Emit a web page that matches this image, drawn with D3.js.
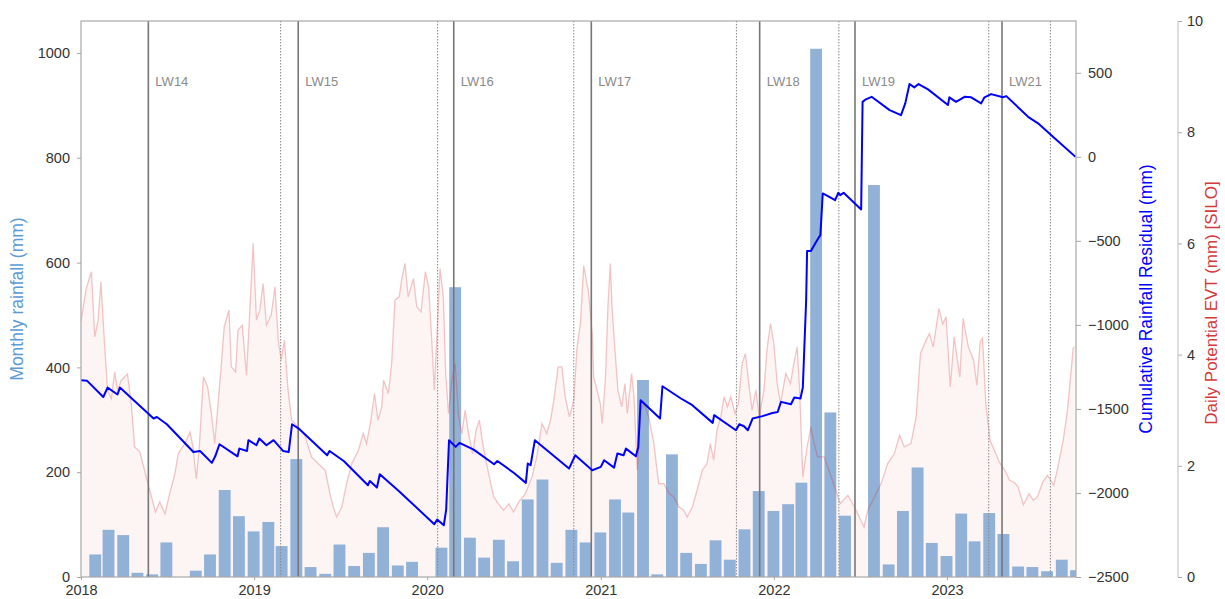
<!DOCTYPE html>
<html><head><meta charset="utf-8">
<script src="https://cdn.jsdelivr.net/npm/d3@7"></script>
<style>body{margin:0;background:#fff}svg{display:block;font-family:"Liberation Sans",Arial,sans-serif}</style>
</head><body><svg id="c" width="1225" height="599"></svg>
<script>
// ---------------- DATA ----------------
const monthLabels = [
"2018-01","2018-02","2018-03","2018-04","2018-05","2018-06","2018-07","2018-08","2018-09","2018-10","2018-11","2018-12",
"2019-01","2019-02","2019-03","2019-04","2019-05","2019-06","2019-07","2019-08","2019-09","2019-10","2019-11","2019-12",
"2020-01","2020-02","2020-03","2020-04","2020-05","2020-06","2020-07","2020-08","2020-09","2020-10","2020-11","2020-12",
"2021-01","2021-02","2021-03","2021-04","2021-05","2021-06","2021-07","2021-08","2021-09","2021-10","2021-11","2021-12",
"2022-01","2022-02","2022-03","2022-04","2022-05","2022-06","2022-07","2022-08","2022-09","2022-10","2022-11","2022-12",
"2023-01","2023-02","2023-03","2023-04","2023-05","2023-06","2023-07","2023-08","2023-09"];
const monthlyRainfall = [
43,90,80,8,5,66,0,12,43,166,116,87,
105,59,225,19,6,62,21,46,95,22,29,0,
56,553,75,37,71,30,148,186,27,90,66,85,
148,123,376,5,234,46,25,70,33,91,164,126,
139,180,1008,314,117,0,748,24,126,209,65,40,
121,68,122,82,20,19,11,33,13];

const cumDates = [
"2018-01-01","2018-01-14","2018-02-17","2018-02-26","2018-03-19","2018-03-24","2018-06-03","2018-06-10","2018-07-01","2018-08-26",
"2018-09-09","2018-10-04","2018-10-11","2018-10-20","2018-11-27","2018-12-01","2018-12-17","2018-12-20","2019-01-06","2019-01-12",
"2019-01-27","2019-02-11","2019-03-03","2019-03-15","2019-03-22","2019-04-05","2019-06-04","2019-06-09","2019-07-09","2019-08-29",
"2019-09-02","2019-09-17","2019-09-23","2019-11-02","2020-01-16","2020-01-22","2020-02-05","2020-02-10","2020-02-16","2020-03-01",
"2020-03-09","2020-04-08","2020-05-21","2020-05-28","2020-07-02","2020-07-27","2020-07-31","2020-08-06","2020-08-15","2020-10-26",
"2020-11-08","2020-12-14","2021-01-01","2021-01-08","2021-01-29","2021-02-05","2021-02-18","2021-02-23","2021-03-16","2021-03-21",
"2021-03-26","2021-05-06","2021-05-11","2021-06-19","2021-07-13","2021-08-25","2021-08-28","2021-10-13","2021-10-20","2021-10-30",
"2021-11-07","2021-11-17","2021-12-08","2021-12-29","2022-01-09","2022-01-16","2022-02-06","2022-02-13","2022-02-26","2022-03-03",
"2022-03-10","2022-03-12","2022-03-20","2022-04-03","2022-04-09","2022-04-14","2022-04-25","2022-05-10","2022-05-17","2022-05-21",
"2022-05-28","2022-07-04","2022-07-07","2022-07-14","2022-07-26","2022-09-02","2022-09-26","2022-10-05","2022-10-14","2022-10-24",
"2022-11-02","2022-11-22","2023-01-03","2023-01-06","2023-01-20","2023-02-07","2023-02-21","2023-03-14","2023-03-21","2023-04-04",
"2023-04-29","2023-05-06","2023-06-21","2023-07-12","2023-08-16","2023-09-29"];
const cumResidual = [
-1329,-1333,-1429,-1373,-1414,-1373,-1557,-1548,-1591,-1756,
-1750,-1821,-1782,-1710,-1782,-1736,-1750,-1686,-1716,-1676,
-1716,-1686,-1750,-1756,-1591,-1617,-1776,-1750,-1810,-1954,
-1929,-1968,-1889,-1988,-2186,-2158,-2192,-2099,-1686,-1726,
-1702,-1742,-1829,-1810,-1881,-1940,-1825,-1835,-1686,-1855,
-1776,-1865,-1845,-1805,-1849,-1765,-1776,-1736,-1782,-1726,
-1448,-1557,-1365,-1438,-1478,-1583,-1537,-1627,-1591,-1603,
-1627,-1557,-1543,-1524,-1518,-1458,-1472,-1432,-1438,-1373,
-853,-560,-560,-492,-466,-218,-234,-258,-214,-228,
-214,-313,327,342,357,278,248,318,433,413,
433,401,308,354,327,357,354,318,354,373,
354,361,238,199,110,0];

const evtDates = [
"2018-01-01","2018-01-12","2018-01-23","2018-01-30","2018-02-06","2018-02-12","2018-02-20","2018-02-26","2018-03-06","2018-03-13",
"2018-03-19","2018-03-27","2018-04-09","2018-04-17","2018-04-24","2018-05-05","2018-05-15","2018-05-26","2018-06-07","2018-06-16",
"2018-06-27","2018-07-07","2018-07-18","2018-07-25","2018-08-08","2018-08-19","2018-08-25","2018-09-01","2018-09-07","2018-09-16",
"2018-09-25","2018-10-03","2018-10-10","2018-10-17","2018-10-24","2018-10-30","2018-11-09","2018-11-14","2018-11-23","2018-11-28",
"2018-12-07","2018-12-16","2018-12-23","2018-12-30","2019-01-06","2019-01-13","2019-01-20","2019-01-27","2019-02-06","2019-02-14",
"2019-02-21","2019-02-27","2019-03-06","2019-03-13","2019-03-21","2019-04-04","2019-04-18","2019-05-02","2019-05-16","2019-05-31",
"2019-06-10","2019-06-17","2019-06-24","2019-07-05","2019-07-15","2019-07-26","2019-08-09","2019-08-19","2019-08-26","2019-09-03",
"2019-09-12","2019-09-19","2019-09-27","2019-10-01","2019-10-11","2019-10-18","2019-10-25","2019-11-03","2019-11-08","2019-11-15",
"2019-11-22","2019-12-03","2019-12-10","2019-12-19","2019-12-28","2020-01-04","2020-01-11","2020-01-16","2020-01-21","2020-01-28",
"2020-02-04","2020-02-09","2020-02-15","2020-02-22","2020-02-29","2020-03-07","2020-03-14","2020-03-21","2020-03-28","2020-04-06",
"2020-04-13","2020-04-20","2020-04-27","2020-05-08","2020-05-20","2020-05-30","2020-06-10","2020-06-21","2020-07-01","2020-07-12",
"2020-07-26","2020-08-09","2020-08-19","2020-08-30","2020-09-09","2020-09-17","2020-09-24","2020-10-03","2020-10-11","2020-10-18",
"2020-10-27","2020-11-05","2020-11-12","2020-11-19","2020-11-26","2020-12-06","2020-12-14","2020-12-17","2020-12-24","2020-12-31",
"2021-01-04","2021-01-11","2021-01-16","2021-01-21","2021-01-25","2021-02-01","2021-02-06","2021-02-14","2021-02-21","2021-02-26",
"2021-03-07","2021-03-12","2021-03-19","2021-03-26","2021-04-02","2021-04-12","2021-04-23","2021-05-03","2021-05-14","2021-05-25",
"2021-06-04","2021-06-15","2021-06-25","2021-07-02","2021-07-13","2021-07-23","2021-08-03","2021-08-13","2021-08-20","2021-08-27",
"2021-09-03","2021-09-11","2021-09-18","2021-09-25","2021-10-02","2021-10-11","2021-10-18","2021-10-26","2021-11-02","2021-11-09",
"2021-11-16","2021-11-24","2021-12-01","2021-12-11","2021-12-18","2021-12-25","2022-01-01","2022-01-08","2022-01-15","2022-01-26",
"2022-02-05","2022-02-12","2022-02-19","2022-02-24","2022-03-03","2022-03-12","2022-03-20","2022-03-27","2022-04-03","2022-04-17",
"2022-04-27","2022-05-09","2022-05-21","2022-06-06","2022-06-20","2022-07-10","2022-07-18","2022-08-01","2022-08-15","2022-08-29",
"2022-09-12","2022-09-23","2022-10-03","2022-10-17","2022-10-28","2022-11-06","2022-11-18","2022-11-25","2022-12-03","2022-12-15",
"2022-12-23","2022-12-30","2023-01-08","2023-01-16","2023-01-28","2023-02-04","2023-02-15","2023-02-26","2023-03-05","2023-03-12",
"2023-03-17","2023-03-24","2023-04-02","2023-04-11","2023-04-21","2023-05-03","2023-05-13","2023-05-23","2023-05-31","2023-06-11",
"2023-06-23","2023-07-02","2023-07-11","2023-07-22","2023-08-01","2023-08-14","2023-08-23","2023-09-03","2023-09-12","2023-09-24",
"2023-09-27"];
const evtValues = [
4.60,5.19,5.49,4.32,4.62,5.31,4.14,3.36,3.21,3.69,
3.36,3.54,3.65,3.12,2.34,2.25,1.92,1.56,1.17,1.35,
1.14,1.50,1.86,2.22,2.40,2.61,2.34,1.77,2.28,3.60,
3.42,2.94,2.40,3.12,3.84,4.50,4.80,3.78,3.69,4.44,
4.53,3.63,4.80,6.00,4.62,4.80,5.28,4.53,4.71,5.22,
4.26,3.90,4.26,3.42,2.82,2.70,2.55,2.16,2.04,1.92,
1.50,1.26,1.08,1.26,1.68,2.04,2.28,2.58,2.40,2.76,
3.30,2.82,3.06,3.54,3.30,3.84,4.98,5.04,5.34,5.64,
5.04,5.37,4.86,4.77,5.49,5.22,4.20,3.36,4.26,5.55,
5.04,3.66,2.94,3.54,3.84,2.88,2.58,3.00,2.58,2.22,
2.64,2.82,2.40,1.92,1.44,1.32,1.20,1.32,1.17,1.35,
1.50,1.80,2.16,2.76,2.58,2.82,3.18,3.78,3.78,3.24,
2.88,3.18,4.14,4.56,5.60,5.13,4.38,3.60,3.36,3.12,
2.76,3.60,4.86,5.64,4.80,3.96,3.36,3.06,3.48,2.94,
3.66,3.24,1.92,3.00,3.12,2.88,2.40,1.68,1.68,1.50,
1.44,1.26,1.20,1.08,1.26,1.56,1.92,2.04,2.40,2.10,
2.64,2.88,3.24,3.06,3.24,2.94,3.12,3.84,4.02,3.48,
3.00,3.36,2.88,3.36,4.14,4.56,4.20,3.48,3.12,3.66,
3.48,3.84,4.14,3.42,1.80,2.34,2.70,2.40,2.16,2.16,
1.92,1.62,1.32,1.47,1.26,0.90,1.20,1.44,1.68,2.04,
2.22,2.55,2.34,2.40,2.88,4.02,4.26,4.38,4.14,4.83,
4.55,4.68,3.42,4.32,3.60,4.65,4.14,3.90,3.45,4.23,
4.30,3.10,2.45,2.28,2.07,1.92,1.74,1.70,1.62,1.30,
1.50,1.38,1.45,1.71,1.83,1.65,1.98,2.46,3.00,4.11,
4.14];

const panelNames = ["LW14","LW15","LW16","LW17","LW18","LW19","LW21"];
const panelStarts = ["2018-05-23","2019-04-04","2020-02-26","2020-12-12","2021-12-02","2022-06-21","2023-04-27"];
const panelEnds   = ["2019-02-26","2020-01-23","2020-11-05","2021-10-14","2022-05-18","2023-03-30","2023-08-07"];

const rainTicks = [0,200,400,600,800,1000];
const residTicks = [-2500,-2000,-1500,-1000,-500,0,500];
const evtTicks = [0,2,4,6,8,10];
const yearTicks = ["2018","2019","2020","2021","2022","2023"];

// ---------------- CHART ----------------
const svg = d3.select("#c");
const L=81, R=1076, T=21, B=577;
const parse = d3.utcParse("%Y-%m-%d");
const x = d3.scaleUtc().domain([parse("2018-01-01"), parse("2023-09-30")]).range([L,R]);
const y1 = d3.scaleLinear().domain([0,1061]).range([B,T]);
const y2 = d3.scaleLinear().domain([-2500,808]).range([B,T]);
const y3 = d3.scaleLinear().domain([0,10]).range([B,T]);

svg.append("defs").append("clipPath").attr("id","clip")
  .append("rect").attr("x",L).attr("y",T).attr("width",R-L).attr("height",B-T);
const plot = svg.append("g").attr("clip-path","url(#clip)");

const evt = evtDates.map((d,i)=>({d:parse(d), v:evtValues[i]}));
// EVT fill (beneath bars)
plot.append("path").datum(evt)
  .attr("d", d3.area().x(d=>x(d.d)).y0(B).y1(d=>y3(d.v)))
  .attr("fill","#d62728").attr("fill-opacity",0.05);

// bars (month-end, 25-day width)
const bars = monthLabels.map((m,i)=>{
  const start = d3.utcParse("%Y-%m")(m);
  const end = d3.utcDay.offset(d3.utcMonth.offset(start,1),-1);
  return {d:end, v:monthlyRainfall[i]};
});
plot.selectAll("rect.bar").data(bars).join("rect").attr("class","bar")
  .attr("x",d=>x(d3.utcHour.offset(d.d,-300)))
  .attr("width",d=>x(d3.utcHour.offset(d.d,300))-x(d3.utcHour.offset(d.d,-300)))
  .attr("y",d=>y1(d.v)).attr("height",d=>B-y1(d.v))
  .attr("fill","#92b1d6");

// EVT line
plot.append("path").datum(evt)
  .attr("d", d3.line().x(d=>x(d.d)).y(d=>y3(d.v)))
  .attr("fill","none").attr("stroke","#d62728").attr("stroke-opacity",0.26).attr("stroke-width",1.3);

// panel lines
panelStarts.forEach((s,i)=>{
  const xs = x(parse(s));
  plot.append("line").attr("x1",xs).attr("x2",xs).attr("y1",T).attr("y2",B)
    .attr("stroke","#777").attr("stroke-width",1.6);
  svg.append("text").attr("x",xs+7).attr("y",86).text(panelNames[i])
    .attr("font-size",13).attr("fill","#8a8a8a");
  const xe = x(parse(panelEnds[i]));
  plot.append("line").attr("x1",xe).attr("x2",xe).attr("y1",T).attr("y2",B)
    .attr("stroke","#888").attr("stroke-width",1).attr("stroke-dasharray","1.5,1.5");
});

// cumulative residual
const cum = cumDates.map((d,i)=>({d:parse(d), v:cumResidual[i]}));
plot.append("path").datum(cum)
  .attr("d", d3.line().x(d=>x(d.d)).y(d=>y2(d.v)))
  .attr("fill","none").attr("stroke","#0000ff").attr("stroke-width",2).attr("stroke-linejoin","round");

// frame
svg.append("rect").attr("x",L).attr("y",T).attr("width",R-L).attr("height",B-T)
  .attr("fill","none").attr("stroke","#a8a8a8").attr("stroke-width",1.2);

function styleAxis(g){
  g.select(".domain").remove();
  g.selectAll(".tick line").attr("stroke","#a8a8a8");
  g.selectAll(".tick text").attr("fill","#333").attr("font-size",14.5)
   .attr("font-family",'"Liberation Sans",Arial,sans-serif');
}
svg.append("g").attr("transform",`translate(${L},0)`)
  .call(d3.axisLeft(y1).tickValues(rainTicks).tickFormat(d3.format("d")).tickSize(4).tickPadding(7)).call(styleAxis);
svg.append("g").attr("transform",`translate(${R},0)`)
  .call(d3.axisRight(y2).tickValues(residTicks).tickFormat(d3.format("d")).tickSize(5).tickPadding(7)).call(styleAxis);
const g3 = svg.append("g").attr("transform","translate(1178,0)")
  .call(d3.axisRight(y3).tickValues(evtTicks).tickSize(4).tickPadding(5)).call(styleAxis);
g3.append("line").attr("x1",0).attr("x2",0).attr("y1",T).attr("y2",B).attr("stroke","#c8c8c8").attr("stroke-width",1.2);
svg.append("g").attr("transform",`translate(0,${B})`)
  .call(d3.axisBottom(x).tickValues(yearTicks.map(y=>parse(y+"-01-01"))).tickFormat(d3.utcFormat("%Y")).tickSize(3).tickPadding(5))
  .call(styleAxis);

// axis titles
svg.append("text").attr("transform","translate(18,299) rotate(-90)")
  .attr("text-anchor","middle").attr("dominant-baseline","middle")
  .attr("font-size",17.5).attr("fill","#5b9bd5").text("Monthly rainfall (mm)");
svg.append("text").attr("transform","translate(1147,299) rotate(-90)")
  .attr("text-anchor","middle").attr("dominant-baseline","middle")
  .attr("font-size",17.5).attr("fill","#0000ff").text("Cumulative Rainfall Residual (mm)");
svg.append("text").attr("transform","translate(1213,303) rotate(-90)")
  .attr("text-anchor","middle").attr("dominant-baseline","middle")
  .attr("font-size",17).attr("fill","#d43a3a").text("Daily Potential EVT (mm) [SILO]");
</script></body></html>
